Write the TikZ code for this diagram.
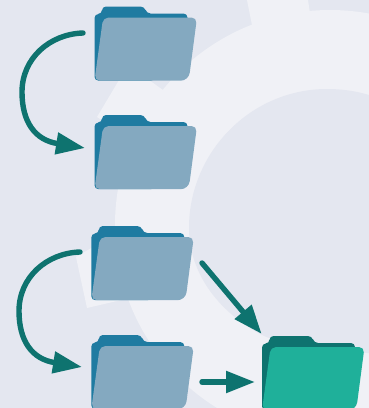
\documentclass[tikz,border=0pt]{standalone}
\usepackage{xcolor}
\usetikzlibrary{arrows.meta}
\definecolor{bgdark}{HTML}{E4E7F0}
\definecolor{bglight}{HTML}{F0F1F6}
\definecolor{tealdark}{HTML}{0E736F}
\definecolor{tealfront}{HTML}{1FB09A}
\definecolor{bluedark}{HTML}{1F7BA1}
\definecolor{bluefront}{HTML}{84A9C0}
\tikzset{
    flow/.style={draw=tealdark,line width=5.4pt,line cap=round,-{Triangle[length=29pt,width=21pt,fill=tealdark]}},
    pics/folder/.style 2 args={code={
        \fill[#1,rounded corners=4pt] (0,74.2) -- (0,7.5) -- (7.5,7.5) -- (7.5,0) -- (50,0) -- (52,7) -- (93,7) -- (93,30) -- (60,74.2) -- cycle;
        \fill[#2,rounded corners=5.5pt] (8.6,11) -- (102.5,11) [rounded corners=8pt] -- (94.2,74.2) [rounded corners=5.5pt] -- (0,74.2) -- cycle;
    }}
}
\begin{document}
\begin{tikzpicture}[x=1pt,y=-1pt]
        \clip (0,0) rectangle (369,408);
        \fill[bgdark] (0,0) rectangle (369,408);
        \fill[bglight] (330,225) circle[radius=215];
        \fill[bglight] (247,0) -- (253,30) -- (311,20) -- (308,0) -- cycle;
        \fill[bglight] (97,117) -- (128,65) -- (163,90) -- (180,120) -- (130,138) -- cycle;
        \fill[bglight] (76,257) -- (87,308) -- (130,298) -- (130,225) -- cycle;
        \fill[bgdark] (189,228) .. controls (189,152) and (251,89) .. (327,89) .. controls (342,89) and (356,91) .. (369,95) -- (369,353) .. controls (330,353) and (290,348) .. (262,335) .. controls (215,310) and (189,270) .. (189,228) -- cycle;
        \foreach \x/\y/\name in {94.5/6.5/docone,94.5/115/doctwo,91.3/226/docthree,91.3/335/docfour}{
            \coordinate (\name) at (\x,\y);
            \pic at (\name) {folder={bluedark}{bluefront}};
        }
        \coordinate (target) at (262,336);
        \pic at (target) {folder={tealdark}{tealfront}};
        \coordinate (startone) at (83,33);
        \coordinate (endone) at (85,148);
        \coordinate (starttwo) at (80,252);
        \coordinate (endtwo) at (82,367);
        \coordinate (startthree) at (202,263);
        \coordinate (endthree) at (261.7,334);
        \coordinate (startfour) at (202,382);
        \coordinate (endfour) at (255,382);
        \draw[flow] (startone) .. controls (50,34) and (22,58) .. (22,92) .. controls (22,122) and (35,140) .. (endone);
        \draw[flow] (starttwo) .. controls (47,253) and (19,277) .. (19,311) .. controls (19,341) and (32,359) .. (endtwo);
        \draw[flow] (startthree) -- (endthree);
        \draw[flow] (startfour) -- (endfour);
    \end{tikzpicture}
\end{document}
